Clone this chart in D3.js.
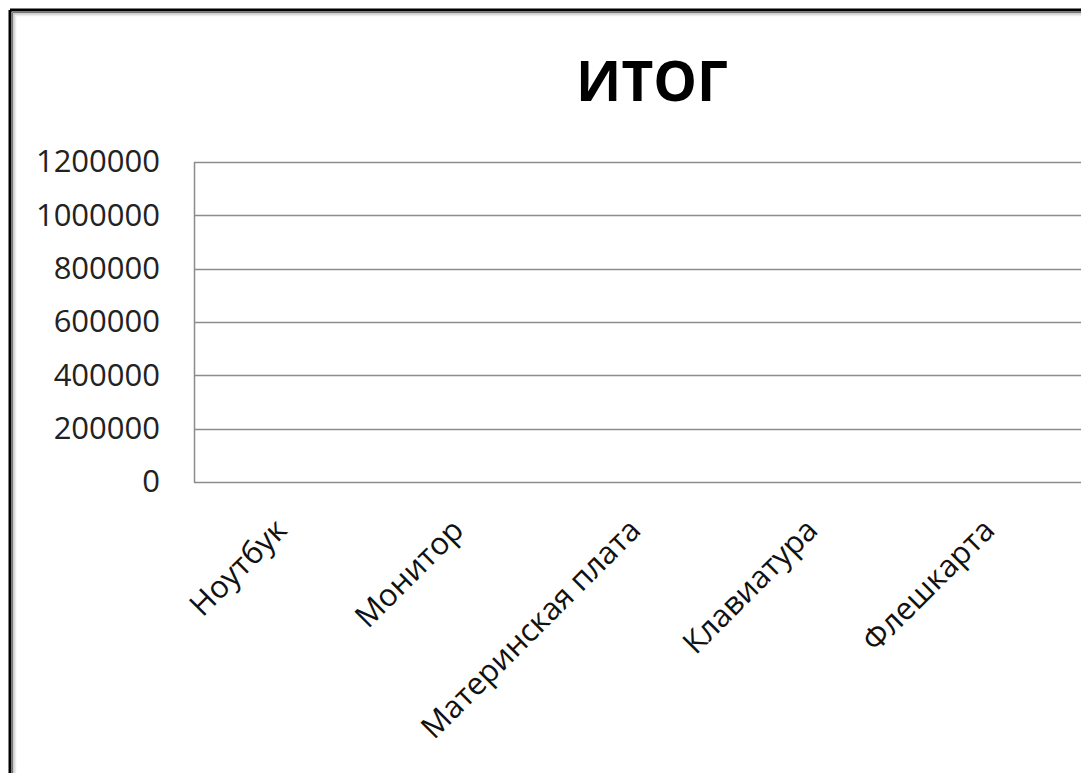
<!DOCTYPE html>
<html>
<head>
<meta charset="utf-8">
<script src="https://cdn.jsdelivr.net/npm/d3@7"></script>
<style>
  body { margin: 0; background: #fff; }
  svg { display: block; }
</style>
</head>
<body>
<div id="chart"></div>
<script>
// chart data (the series is empty in the reference: all values sit at zero)
const categories = ["Ноутбук", "Монитор", "Материнская плата", "Клавиатура", "Флешкарта"];
const values = [0, 0, 0, 0, 0];
const yTicks = [0, 200000, 400000, 600000, 800000, 1000000, 1200000];
const chartTitle = "ИТОГ";

const width = 1081, height = 773;
const margin = {top: 162, right: 0, bottom: 291, left: 194};

const svg = d3.select("#chart").append("svg")
    .attr("width", width).attr("height", height);

// outer frame of the chart object (cropped on the right and bottom)
const frame = svg.append("g");
[[0, "#000", 3], [2.5, "#777", 1.5], [4, "#c8c8c8", 1.5], [5.5, "#ececec", 1.5]].forEach(([o, c, w]) => {
    frame.append("line").attr("x1", 10 + o).attr("x2", 10 + o).attr("y1", 10 + o).attr("y2", height)
        .attr("stroke", c).attr("stroke-width", w);
    frame.append("line").attr("x1", 10 + o).attr("x2", width).attr("y1", 10 + o).attr("y2", 10 + o)
        .attr("stroke", c).attr("stroke-width", w);
});

const x = d3.scaleBand()
    .domain(categories)
    .range([margin.left, width - margin.right - 2]);

const y = d3.scaleLinear()
    .domain([0, 1200000])
    .range([height - margin.bottom, margin.top]);

// horizontal gridlines
svg.append("g")
    .selectAll("line")
    .data(yTicks)
    .join("line")
    .attr("x1", margin.left).attr("x2", width)
    .attr("y1", d => Math.round(y(d)) + 0.5).attr("y2", d => Math.round(y(d)) + 0.5)
    .attr("stroke", "#8c8c8c").attr("stroke-width", 1.5);

// y axis labels
const yAxis = svg.append("g")
    .attr("transform", `translate(${margin.left},0)`)
    .call(d3.axisLeft(y).tickValues(yTicks).tickFormat(d3.format("d")).tickSize(0).tickPadding(34));
yAxis.select(".domain").attr("stroke", "#8c8c8c").attr("stroke-width", 1.5);
yAxis.selectAll("text")
    .attr("font-family", "'Open Sans', sans-serif")
    .attr("font-size", 31)
    .attr("fill", "#222");

// bars (zero height)
svg.append("g")
    .selectAll("rect")
    .data(values)
    .join("rect")
    .attr("x", (d, i) => x(categories[i]) + x.bandwidth() * 0.2)
    .attr("width", x.bandwidth() * 0.6)
    .attr("y", d => y(d))
    .attr("height", d => y(0) - y(d))
    .attr("fill", "#4f81bd");

// rotated category labels
svg.append("g")
    .selectAll("text")
    .data(categories)
    .join("text")
    .attr("transform", d => `translate(${x(d) + x.bandwidth() / 2 + 6},${y(0) + 50}) rotate(-45)`)
    .attr("text-anchor", "end")
    .attr("font-family", "'Open Sans', sans-serif")
    .attr("font-size", 31)
    .attr("fill", "#111")
    .text(d => d);

// title
svg.append("text")
    .attr("x", 652).attr("y", 101)
    .attr("text-anchor", "middle")
    .attr("font-family", "'Open Sans', sans-serif")
    .attr("font-weight", "bold")
    .attr("font-size", 55)
    .attr("fill", "#000")
    .text(chartTitle);
</script>
</body>
</html>
